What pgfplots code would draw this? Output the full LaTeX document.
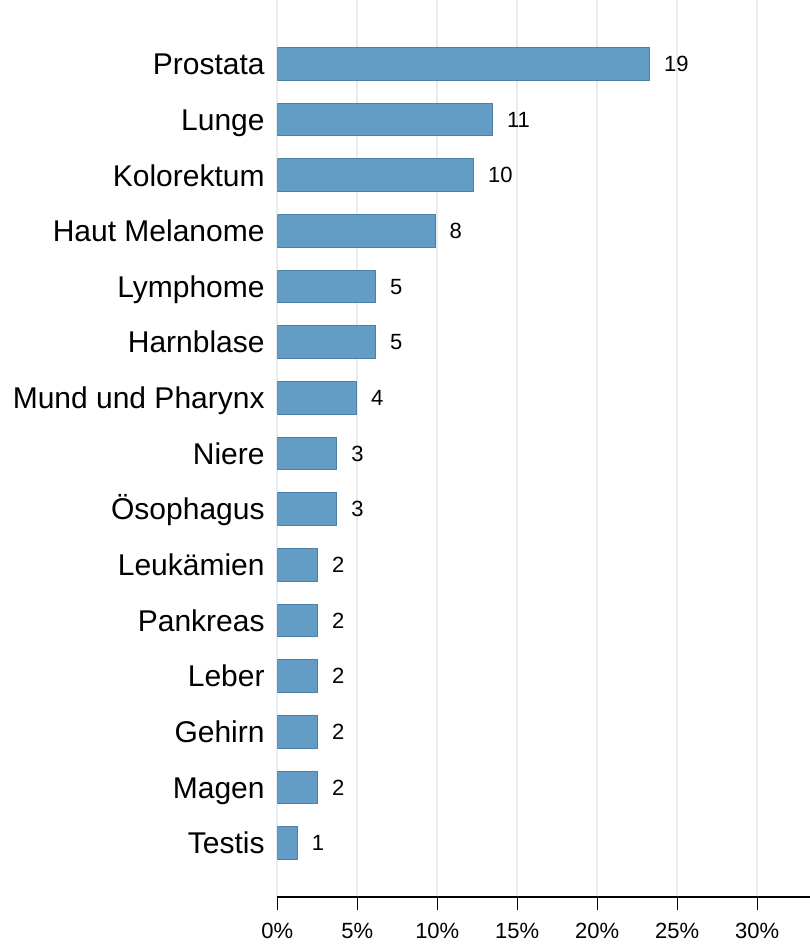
\documentclass[border=0pt]{standalone}
\usepackage{pgfplots}
\pgfplotsset{compat=1.18}
\usepackage{fontspec}
\setmainfont{Liberation Sans}
\definecolor{barfill}{RGB}{99,156,196}
\definecolor{baredge}{RGB}{78,128,166}
\definecolor{gridc}{RGB}{229,237,240}
\begin{document}
\begin{tikzpicture}
\begin{axis}[
  name=ax,
  scale only axis,
  width=532.7pt, height=897pt,
  xbar, bar width=32.7pt,
  xmin=0, xmax=33.3, ymin=-0.97, ymax=15.15,
  axis x line*=bottom, axis y line*=left,
  x axis line style={-, black, line width=1.3pt},
  y axis line style={draw=none},
  xtick={0,5,10,15,20,25,30},
  xticklabels={0\%,5\%,10\%,15\%,20\%,25\%,30\%},
  tick align=outside, major tick length=12.5pt,
  xtick style={black, line width=1.3pt},
  ytick={0,...,14},
  yticklabels={Testis,Magen,Gehirn,Leber,Pankreas,Leukämien,Ösophagus,Niere,Mund und Pharynx,Harnblase,Lymphome,Haut Melanome,Kolorektum,Lunge,Prostata},
  ytick style={draw=none},
  xmajorgrids, grid style={gridc, line width=2pt},
  yticklabel style={font=\fontsize{30}{36}\selectfont, inner sep=0pt, anchor=east, text height=21.5pt, text depth=0pt, xshift=0pt},
  xticklabel style={font=\fontsize{22}{26}\selectfont, inner sep=0pt, anchor=north, text height=16pt, text depth=0pt, yshift=-13pt},
  nodes near coords, point meta=explicit symbolic,
  nodes near coords style={font=\fontsize{22}{26}\selectfont, anchor=west, inner sep=0pt, xshift=14pt, black},
]
\addplot[fill=barfill, draw=baredge, line width=1pt] table[meta=lab] {
x y lab
23.27 14 19
13.46 13 11
12.27 12 10
9.86 11 8
6.15 10 5
6.15 9 5
4.96 8 4
3.73 7 3
3.73 6 3
2.52 5 2
2.52 4 2
2.52 3 2
2.52 2 2
2.52 1 2
1.25 0 1
};
\end{axis}
\pgfresetboundingbox
\path ([xshift=-277.3pt,yshift=-47pt]ax.south west) rectangle (ax.north east);
\end{tikzpicture}
\end{document}
